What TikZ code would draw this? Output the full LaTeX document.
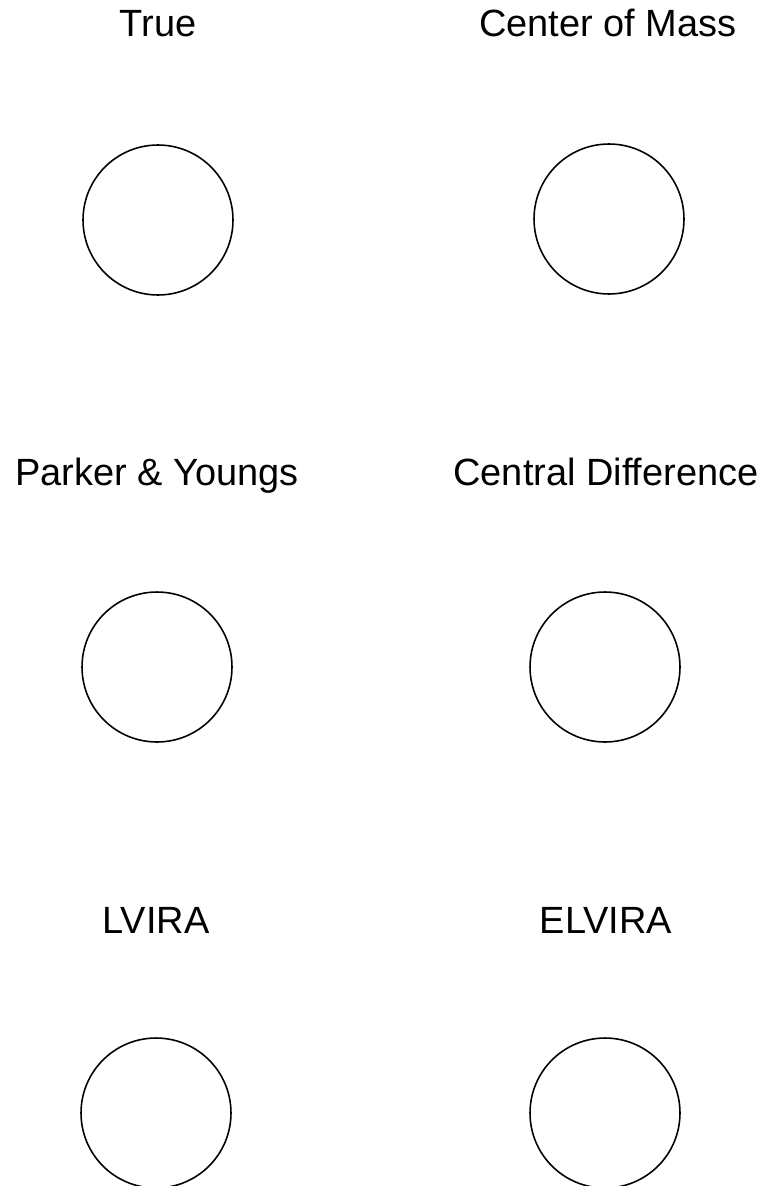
\documentclass[tikz,border=0pt]{standalone}
\usepackage{fontspec}
\setmainfont{Liberation Sans}
\begin{document}
\begin{tikzpicture}[x=0.02cm, y=-0.02cm,
        cerchio/.style={circle,draw,line width=0.9pt,inner sep=0pt,minimum size=3cm},
        etichetta/.style={anchor=base,inner sep=0pt,font=\fontsize{21.6}{26}\selectfont}]
        %area del disegno
        \useasboundingbox (0,0) rectangle (765,1186);
        %disegno le etichette
        \node[etichetta] (tTrue) at (158,37) {True};
        \node[etichetta] (tMass) at (608,37) {Center of Mass};
        \node[etichetta] (tParker) at (157,485) {Parker \& Youngs};
        \node[etichetta] (tCentral) at (606,485) {Central Difference};
        \node[etichetta] (tLvira) at (156,933) {LVIRA};
        \node[etichetta] (tElvira) at (606,933) {ELVIRA};
        %disegno i cerchi
        \node[cerchio] (cTrue) at (158,220) {};
        \node[cerchio] (cMass) at (609,219) {};
        \node[cerchio] (cParker) at (157,667) {};
        \node[cerchio] (cCentral) at (605,667) {};
        \node[cerchio] (cLvira) at (156,1113) {};
        \node[cerchio] (cElvira) at (605,1113) {};
\end{tikzpicture}
\end{document}
